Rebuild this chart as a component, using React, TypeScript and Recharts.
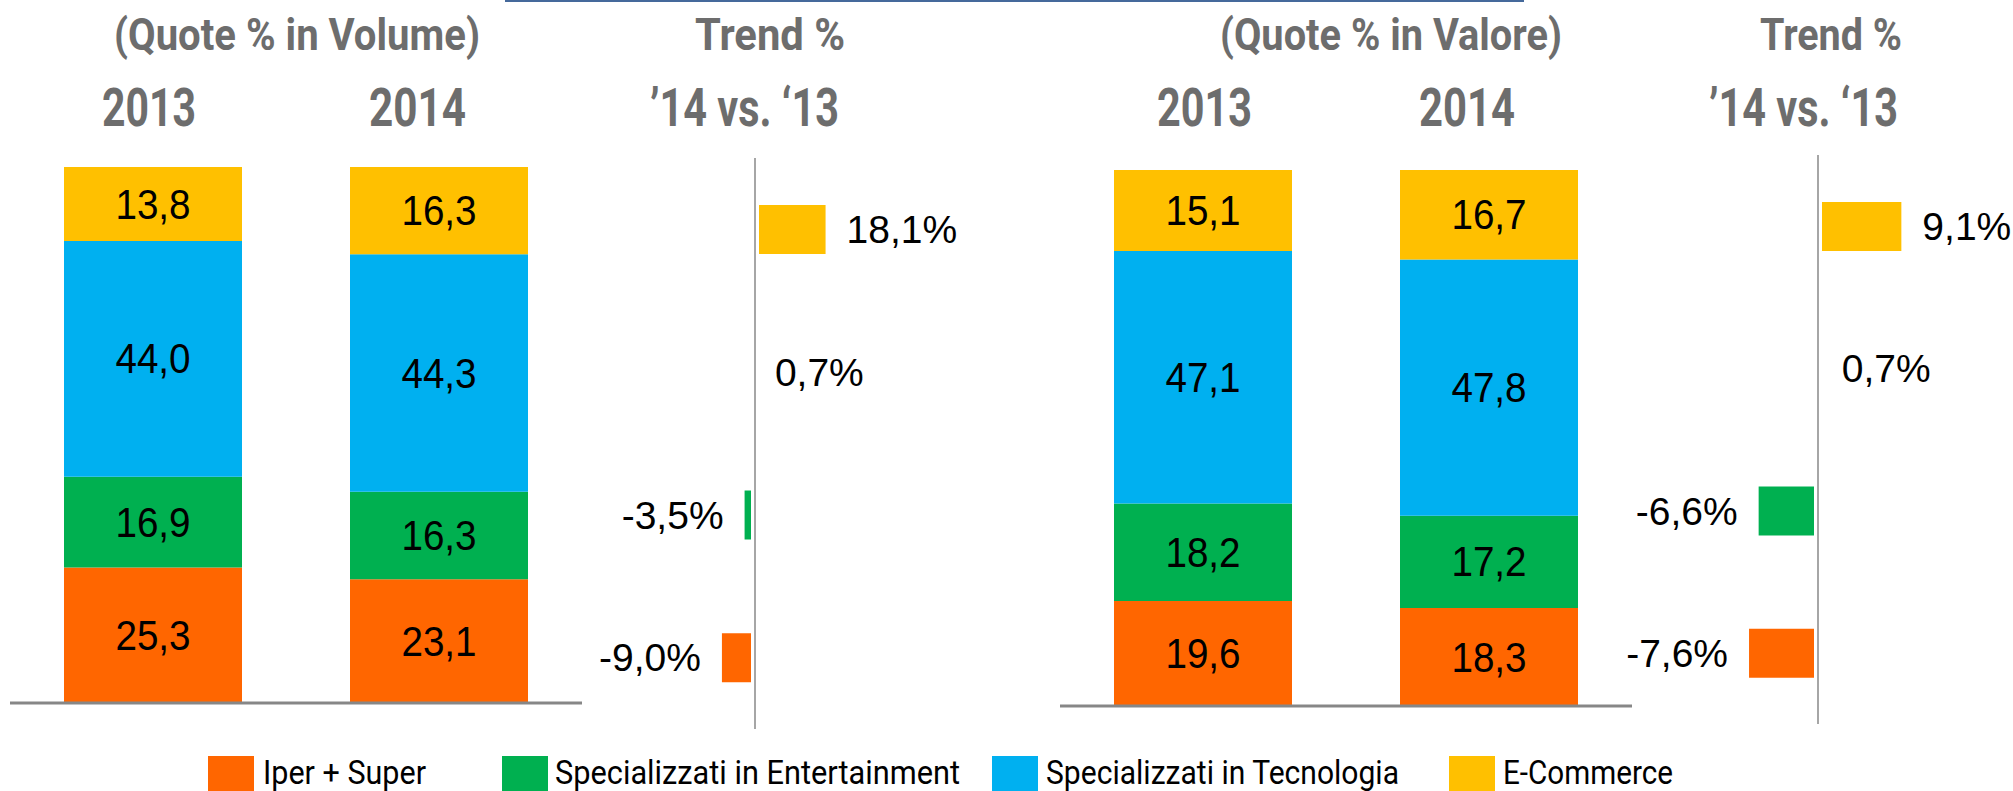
import React from 'react';
import { BarChart, Bar, XAxis, YAxis, Cell, LabelList, ReferenceLine } from 'recharts';

// ---------- data ----------
const years = ['2013', '2014'];
const volumeIper = [25.3, 23.1];
const volumeEnt = [16.9, 16.3];
const volumeTec = [44.0, 44.3];
const volumeEcom = [13.8, 16.3];
const valueIper = [19.6, 18.3];
const valueEnt = [18.2, 17.2];
const valueTec = [47.1, 47.8];
const valueEcom = [15.1, 16.7];

const seriesNames = ['Iper + Super', 'Specializzati in Entertainment', 'Specializzati in Tecnologia', 'E-Commerce'];
const seriesKeys = ['iper', 'ent', 'tec', 'ecom'];
const seriesColors = ['#FF6600', '#00B050', '#00B0F0', '#FFC000'];

// trend rows, top to bottom: E-Commerce, Tecnologia, Entertainment, Iper + Super
const trendOrder = [3, 2, 1, 0];
const trendVolume = [18.1, 0.7, -3.5, -9.0];
const trendValue = [9.1, 0.7, -6.6, -7.6];

const titleTop = ['(Quote % in Volume)', 'Trend %', '(Quote % in Valore)', 'Trend %'];
const titleYears = ['2013', '2014', '’14 vs. ‘13', '2013', '2014', '’14 vs. ‘13'];

// ---------- layout ----------
const W = 2013;
const H = 791;
const titleTopLayout = [
  { cx: 297, w: 366 },
  { cx: 770, w: 150 },
  { cx: 1391, w: 342 },
  { cx: 1831, w: 142 },
];
const titleYearLayout = [
  { cx: 149, w: 94 },
  { cx: 417.5, w: 97 },
  { cx: 744.5, w: 189 },
  { cx: 1204.5, w: 95 },
  { cx: 1467, w: 96 },
  { cx: 1803.5, w: 189 },
];
const legendLayout = [
  { sx: 208, tx: 263, tw: 163 },
  { sx: 502, tx: 555, tw: 405 },
  { sx: 992, tx: 1046, tw: 353 },
  { sx: 1449, tx: 1503, tw: 170 },
];

const fmt1 = (v: any) => Number(v).toFixed(1).replace('.', ',');
const fmtPct = (v: any) => fmt1(v) + '%';

const buildStack = (iper: number[], ent: number[], tec: number[], ecom: number[]) =>
  years.map((y, i) => ({ year: y, iper: iper[i], ent: ent[i], tec: tec[i], ecom: ecom[i] }));

const volumeData = buildStack(volumeIper, volumeEnt, volumeTec, volumeEcom);
const valueData = buildStack(valueIper, valueEnt, valueTec, valueEcom);

const buildTrend = (vals: number[]) => trendOrder.map((s, i) => ({ cat: seriesNames[s], v: vals[i] }));

const LABEL_FONT = '"Liberation Sans", Arial, sans-serif';

type Plot = { x: number; y: number; w: number; h: number };

const boxOf = (props: any) => {
  const vb = props.viewBox || {};
  return {
    x: props.x ?? vb.x,
    y: props.y ?? vb.y,
    width: props.width ?? vb.width,
    height: props.height ?? vb.height,
  };
};

const StackLabel = (props: any) => {
  const { x, y, width, height } = boxOf(props);
  const cx = x + width / 2;
  const cy = y + height / 2;
  return (
    <text
      x={cx}
      y={cy}
      textAnchor="middle"
      dominantBaseline="central"
      fontSize={42}
      fontFamily={LABEL_FONT}
      fill="#000"
      transform={`translate(${cx} ${cy}) scale(0.92 1) translate(${-cx} ${-cy})`}
    >
      {fmt1(props.value)}
    </text>
  );
};

function StackedChart({ data, plot }: { data: any[]; plot: Plot }) {
  const m = { top: 10, right: 10, bottom: 10, left: 10 };
  return (
    <div style={{ position: 'absolute', left: plot.x - m.left, top: plot.y - m.top }}>
      <BarChart
        width={plot.w + m.left + m.right}
        height={plot.h + m.top + m.bottom}
        data={data}
        margin={m}
        barCategoryGap={0}
      >
        <XAxis dataKey="year" hide />
        <YAxis hide domain={[0, 100]} type="number" />
        {seriesKeys.map((k, i) => (
          <Bar key={k} dataKey={k} stackId="s" fill={seriesColors[i]} barSize={178} isAnimationActive={false}>
            <LabelList dataKey={k} content={StackLabel} />
          </Bar>
        ))}
        <ReferenceLine y={0} stroke="#878787" strokeWidth={3} />
      </BarChart>
    </div>
  );
}

const TrendLabel = (props: any) => {
  const { x, y, width, height } = boxOf(props);
  const value = Number(props.value);
  const left = Math.min(x, x + width);
  const right = Math.max(x, x + width);
  const pos = value >= 0;
  return (
    <text
      x={pos ? right + 17 : left - 17}
      y={y + height / 2}
      textAnchor={pos ? 'start' : 'end'}
      dominantBaseline="central"
      fontSize={39}
      fontFamily={LABEL_FONT}
      fill="#000"
    >
      {fmtPct(value)}
    </text>
  );
};

function TrendChart({ values, plot, domain }: { values: number[]; plot: Plot; domain: [number, number] }) {
  const m = { top: 10, right: 90, bottom: 10, left: 90 };
  const data = buildTrend(values);
  return (
    <div style={{ position: 'absolute', left: plot.x - m.left, top: plot.y - m.top }}>
      <BarChart
        layout="vertical"
        width={plot.w + m.left + m.right}
        height={plot.h + m.top + m.bottom}
        data={data}
        margin={m}
      >
        <XAxis type="number" domain={domain} hide allowDataOverflow />
        <YAxis type="category" dataKey="cat" hide />
        <Bar dataKey="v" barSize={57} stroke="#FFFFFF" strokeWidth={8} isAnimationActive={false}>
          {data.map((d, i) => (
            <Cell key={d.cat} fill={seriesColors[trendOrder[i]]} />
          ))}
          <LabelList dataKey="v" content={TrendLabel} />
        </Bar>
        <ReferenceLine x={0} stroke="#A6A6A6" strokeWidth={2} />
      </BarChart>
    </div>
  );
}

export default function App() {
  return (
    <div
      style={{
        position: 'absolute',
        left: 0,
        top: 0,
        width: W,
        height: H,
        overflow: 'hidden',
        background: '#fff',
      }}
    >
      <div style={{ position: 'absolute', left: 505, top: 0, width: 1019, height: 2, background: '#45699B' }} />
      <StackedChart data={volumeData} plot={{ x: 10, y: 167, w: 572, h: 536 }} />
      <StackedChart data={valueData} plot={{ x: 1060, y: 170, w: 572, h: 536 }} />
      <TrendChart values={trendVolume} plot={{ x: 549, y: 157.5, w: 412, h: 571 }} domain={[-50, 50]} />
      <TrendChart values={trendValue} plot={{ x: 1626, y: 154.5, w: 384, h: 569 }} domain={[-20, 20]} />
      <svg width={W} height={H} style={{ position: 'absolute', left: 0, top: 0, pointerEvents: 'none' }}>
        {titleTop.map((t, i) => (
          <text
            key={'t' + i}
            x={titleTopLayout[i].cx - titleTopLayout[i].w / 2}
            y={50}
            textLength={titleTopLayout[i].w}
            lengthAdjust="spacingAndGlyphs"
            fontFamily="Roboto, sans-serif"
            fontWeight={700}
            fontSize={45}
            fill="#6D6D6D"
          >
            {t}
          </text>
        ))}
        {titleYears.map((t, i) => (
          <text
            key={'y' + i}
            x={titleYearLayout[i].cx - titleYearLayout[i].w / 2}
            y={126}
            textLength={titleYearLayout[i].w}
            lengthAdjust="spacingAndGlyphs"
            fontFamily="Roboto, sans-serif"
            fontWeight={700}
            fontSize={53}
            fill="#6D6D6D"
          >
            {t}
          </text>
        ))}
        {seriesNames.map((n, i) => (
          <g key={'l' + i}>
            <rect x={legendLayout[i].sx} y={756} width={46} height={46} fill={seriesColors[i]} />
            <text
              x={legendLayout[i].tx}
              y={784}
              textLength={legendLayout[i].tw}
              lengthAdjust="spacingAndGlyphs"
              fontFamily="Roboto, sans-serif"
              fontSize={34}
              fill="#000"
            >
              {n}
            </text>
          </g>
        ))}
      </svg>
    </div>
  );
}
